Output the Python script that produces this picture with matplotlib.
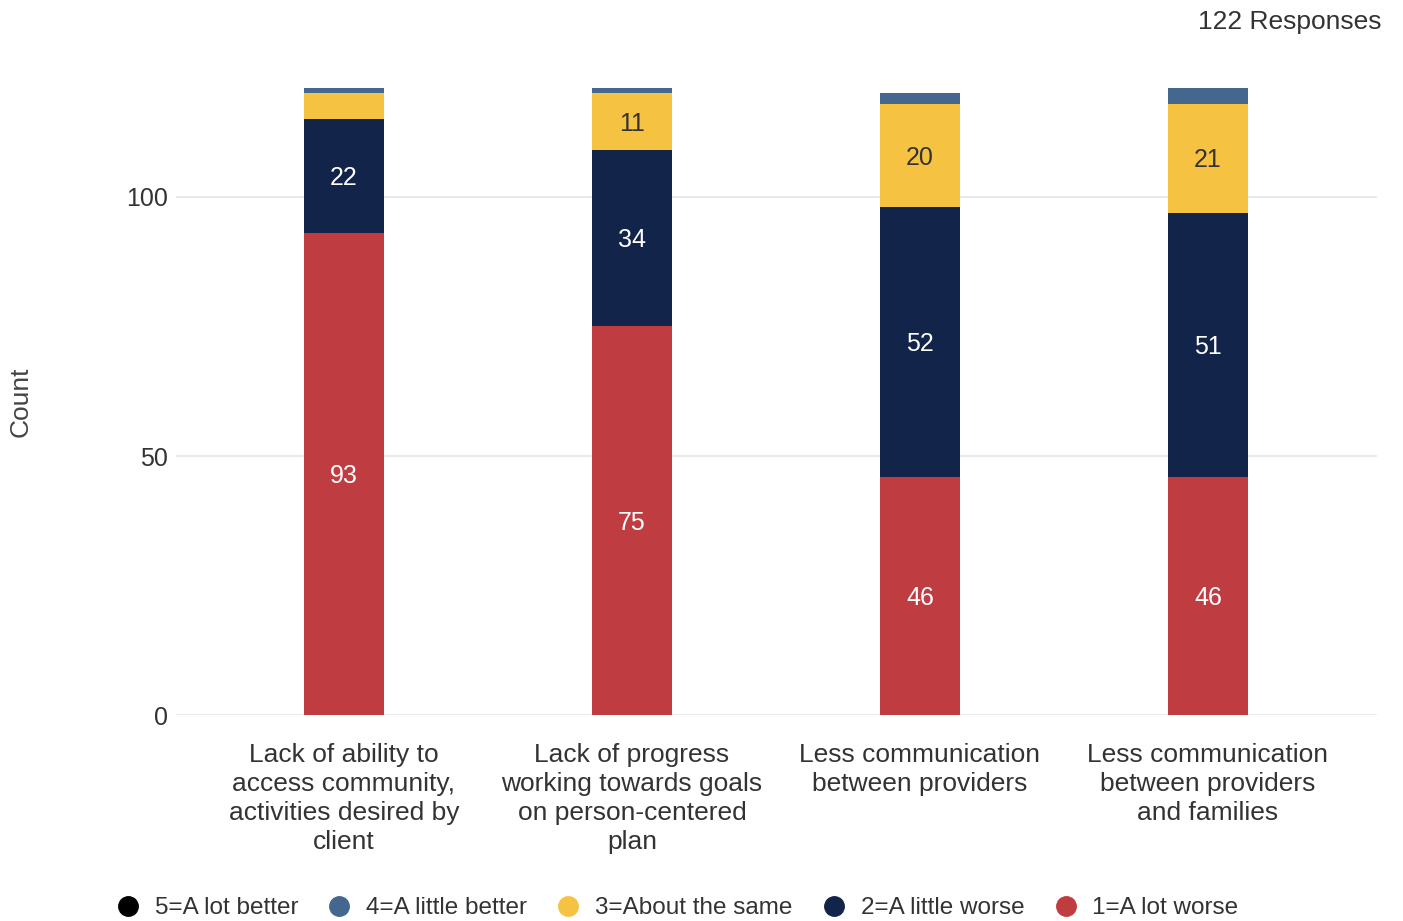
import matplotlib
matplotlib.use("Agg")
import matplotlib.pyplot as plt
from matplotlib.lines import Line2D

plt.rcParams['font.family'] = ['Liberation Sans', 'DejaVu Sans']

categories = ["Lack of ability to\naccess community,\nactivities desired by\nclient",
              "Lack of progress\nworking towards goals\non person-centered\nplan",
              "Less communication\nbetween providers",
              "Less communication\nbetween providers\nand families"]
lot_worse = [93, 75, 46, 46]
little_worse = [22, 34, 52, 51]
same = [5, 11, 20, 21]
little_better = [1, 1, 2, 3]
lot_better = [0, 0, 0, 0]

series = [
    ("1=A lot worse", lot_worse, "#BF3C41", "white"),
    ("2=A little worse", little_worse, "#13244A", "white"),
    ("3=About the same", same, "#F5C242", "#333333"),
    ("4=A little better", little_better, "#44678F", "white"),
    ("5=A lot better", lot_better, "#000000", "white"),
]

W, H = 1403, 921
fig = plt.figure(figsize=(W/100, H/100), dpi=100)
ax = fig.add_axes([176/W, 1-715/H, (1377-176)/W, 647.5/H])

x = list(range(len(categories)))
bottom = [0]*len(categories)
for name, vals, col, tcol in series:
    ax.bar(x, vals, bottom=bottom, width=0.278, color=col, linewidth=0)
    for i, v in enumerate(vals):
        if v >= 10:
            ax.annotate(str(v), (x[i], bottom[i] + v/2), xytext=(0, -2),
                        textcoords='offset pixels', ha='center', va='center',
                        color=tcol, fontsize=18)
    bottom = [b + v for b, v in zip(bottom, vals)]

ax.set_xlim(-0.583, 3.587)
ax.set_ylim(0, 125)
ax.set_yticks([0, 50, 100])
ax.yaxis.grid(True, color="#e6e6e6", linewidth=1.2)
ax.set_axisbelow(True)
for s in ax.spines.values():
    s.set_visible(False)
ax.tick_params(axis='y', length=0, labelsize=18, labelcolor="#333333", pad=6)
ax.tick_params(axis='x', length=0, labelsize=19, labelcolor="#333333", pad=20)
ax.set_xticks(x)
ax.set_xticklabels(categories, linespacing=1.27)

fig.text(21/W, 1-402/H, "Count", rotation=90, ha='center', va='center',
         fontsize=19, color="#444444")

fig.text(1381/W, 1-22/H, "122 Responses", ha='right', va='center', fontsize=19, color="#333333")

handles = [Line2D([], [], marker='o', linestyle='', markersize=14, color=c)
           for _, _, c, _ in reversed(series)]
labels = [n for n, _, _, _ in reversed(series)]
fig.legend(handles, labels, loc='center', bbox_to_anchor=(677/W, 1-908/H), ncol=5,
           frameon=False, fontsize=17.5, handlelength=1.0, handletextpad=0.6,
           columnspacing=1.2, labelcolor="#333333")

fig.savefig("out.png", dpi=100)
